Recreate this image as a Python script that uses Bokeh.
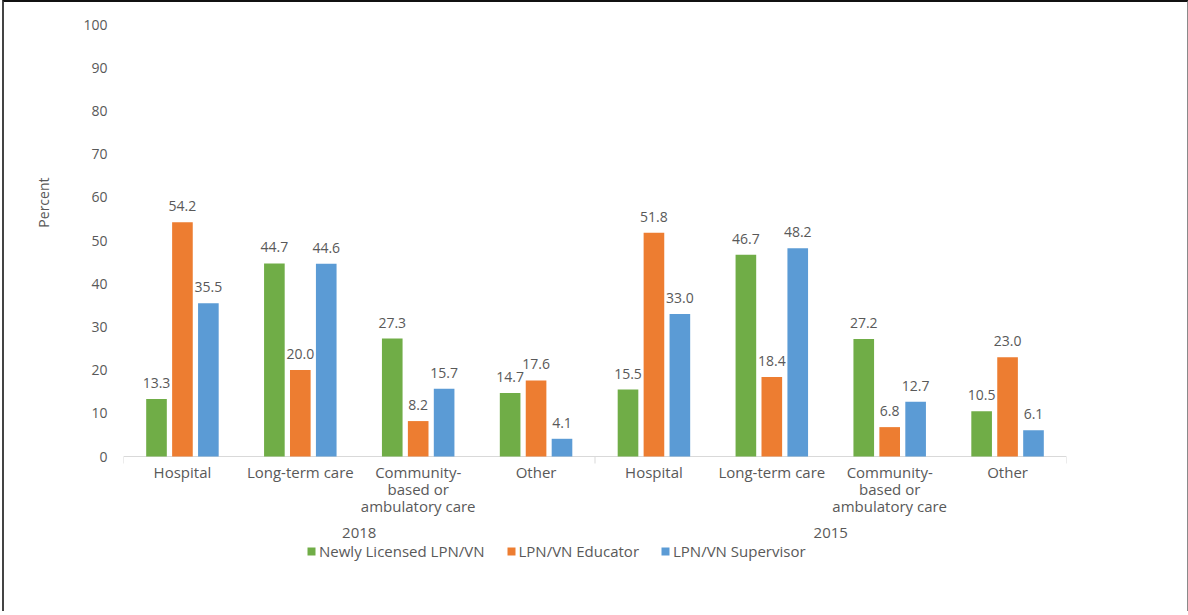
from bokeh.plotting import figure
from bokeh.models import FixedTicker, Legend, LegendItem, ColumnDataSource, Title, Range1d
from bokeh.embed import file_html
from bokeh.resources import INLINE
from bokeh.core.properties import value

years = ["2018", "2015"]
settings = ["Hospital", "Long-term care", "Community-\nbased or\nambulatory care", "Other"]
series = ["Newly Licensed LPN/VN", "LPN/VN Educator", "LPN/VN Supervisor"]
newly = [13.3, 44.7, 27.3, 14.7, 15.5, 46.7, 27.2, 10.5]
educator = [54.2, 20.0, 8.2, 17.6, 51.8, 18.4, 6.8, 23.0]
supervisor = [35.5, 44.6, 15.7, 4.1, 33.0, 48.2, 12.7, 6.1]
colors = ["#70AD47", "#ED7D31", "#5B9BD5"]

FONT = "Open Sans"
TXT = "#595959"
AXC = "#D9D9D9"

MAIN_H = 432          # pixels for 0..100
BELOW_H = 155         # extra frame space under the zero line
Y0 = -BELOW_H * 100.0 / MAIN_H
PXU = MAIN_H / 100.0  # pixels per unit

p = figure(frame_width=943, frame_height=MAIN_H + BELOW_H, output_backend="svg",
           toolbar_location=None, x_axis_location=None,
           x_range=Range1d(0, 8), y_range=Range1d(Y0, 100),
           min_border_left=116, min_border_right=121, min_border_top=22, min_border_bottom=0)
p.styles = {"margin-left": "2px", "margin-top": "-1px",
            "border-top": "3px solid #111111", "border-left": "2px solid #444444",
            "border-right": "2px solid #8a8a8a"}
p.outline_line_color = None
p.grid.visible = False
p.background_fill_color = "white"
p.border_fill_color = "white"

n_groups = len(years)
n_cat = len(settings)
centers = [i + 0.5 for i in range(n_groups * n_cat)]

# y axis
yax = p.yaxis[0]
yax.ticker = FixedTicker(ticks=list(range(0, 101, 10)), minor_ticks=[])
yax.axis_line_color = None
yax.major_tick_line_color = None
yax.minor_tick_line_color = None
yax.major_tick_out = 0
yax.major_tick_in = 0
yax.major_label_standoff = 16
yax.major_label_text_font = FONT
yax.major_label_text_font_size = "14px"
yax.major_label_text_color = TXT

p.add_layout(Title(text="Percent", align="right", offset=153, standoff=55,
                   text_font=FONT, text_font_size="14px", text_font_style="normal",
                   text_color=TXT), "left")

# category axis line and group separators
p.segment(x0=[0], y0=[0], x1=[n_groups * n_cat], y1=[0], line_color=AXC, line_width=1)
seps = [g * n_cat for g in range(n_groups + 1)]
p.segment(x0=seps, y0=[0] * len(seps), x1=seps, y1=[-7 / PXU] * len(seps),
          line_color=AXC, line_width=1)

# bars and value labels
offsets = [-0.22, 0.0, 0.22]
vals = [newly, educator, supervisor]
renderers = []
for k in range(3):
    xs = [c + offsets[k] for c in centers]
    src = ColumnDataSource(dict(x=xs, top=vals[k], lab=[f"{v:.1f}" for v in vals[k]]))
    r = p.vbar(x="x", top="top", width=0.175, source=src, fill_color=colors[k], line_color=None)
    renderers.append(r)
    p.text(x="x", y="top", text="lab", source=src, text_align="center", text_baseline="alphabetic",
           y_offset=-16, text_font=value(FONT), text_font_size="14px", text_color=TXT)

# category labels (one text per line)
cx, cy, ct, coff = [], [], [], []
for g in range(n_groups):
    for i, s in enumerate(settings):
        for j, line in enumerate(s.split("\n")):
            cx.append(centers[g * n_cat + i])
            cy.append(0)
            ct.append(line)
            coff.append(15 + 17 * j)
p.text(x="x", y="y", text="t", y_offset="o",
       source=ColumnDataSource(dict(x=cx, y=cy, t=ct, o=coff)),
       text_align="center", text_baseline="alphabetic",
       text_font=value(FONT), text_font_size="15px", text_color=TXT)

# group (year) labels
gx = [g * n_cat + n_cat / 2 for g in range(n_groups)]
p.text(x=gx, y=[0] * n_groups, text=years, y_offset=76,
       text_align="center", text_baseline="alphabetic",
       text_font=value(FONT), text_font_size="15px", text_color=TXT)

legend = Legend(items=[LegendItem(label=series[k], renderers=[renderers[k]]) for k in range(3)],
                orientation="horizontal", location=(183, 50))
legend.border_line_color = None
legend.background_fill_color = None
legend.background_fill_alpha = 0
legend.padding = 0
legend.margin = 0
legend.spacing = 21
legend.label_standoff = 3
legend.glyph_width = 10
legend.glyph_height = 10
legend.label_height = 16
legend.label_text_font = FONT
legend.label_text_font_size = "15px"
legend.label_text_color = TXT
p.add_layout(legend, "center")

open("out.html", "w").write(file_html(p, INLINE))
